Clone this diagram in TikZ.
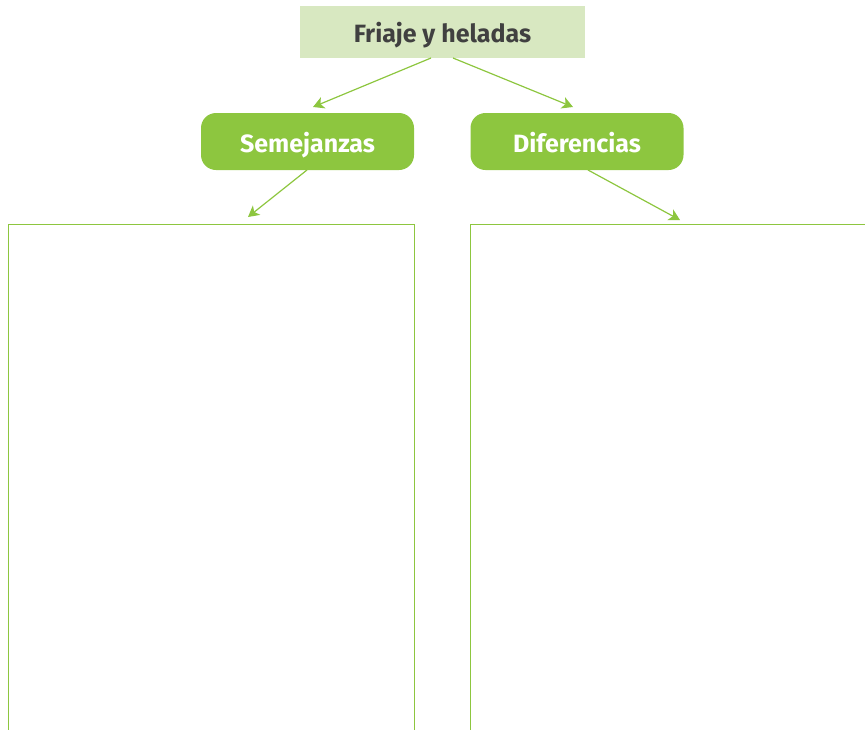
\documentclass[tikz,border=0pt]{standalone}
\usepackage{fontspec}
\setmainfont{Fira Sans}
\usetikzlibrary{arrows.meta}
\definecolor{lgreen}{HTML}{D8E8C1}
\definecolor{mgreen}{HTML}{8DC63F}
\definecolor{dgray}{HTML}{404040}
\tikzset{
  topbox/.style={fill=lgreen, text=dgray, font=\bfseries\fontsize{25}{30}\selectfont, minimum width=285pt, minimum height=52pt, inner sep=0pt, text height=24pt, text depth=4pt},
  catbox/.style={fill=mgreen, text=white, rounded corners=15pt, font=\bfseries\fontsize{25}{30}\selectfont, minimum width=213pt, minimum height=57pt, inner sep=0pt, text height=26pt, text depth=4pt},
  conn/.style={draw=mgreen, line width=1.2pt, -{Stealth[length=11pt,width=12pt,inset=3pt]}},
  panel/.style={draw=mgreen, line width=1pt}
}
\begin{document}
\begin{tikzpicture}[x=1pt,y=-1pt]
\useasboundingbox (0,0) rectangle (865,729);
\clip (0,0) rectangle (865,729);
\node[topbox] (top) at (442.5,32) {Friaje y heladas};
\node[catbox] (sem) at (307.5,141.5) {Semejanzas};
\node[catbox] (dif) at (577,141.5) {Diferencias};
\draw[panel] (8,740) -- (8,224) coordinate (lpTL) -- (414,224) coordinate (lpTR) -- (414,740);
\draw[panel] (470.5,740) -- (470.5,224) coordinate (rpTL) -- (880,224);
\coordinate (a1s) at (431,58);
\coordinate (a1e) at (313,107);
\coordinate (a2s) at (453,58);
\coordinate (a2e) at (573,107);
\coordinate (a3s) at (307,170);
\coordinate (a3e) at (248,217);
\coordinate (a4s) at (588,170);
\coordinate (a4e) at (680,220);
\draw[conn] (a1s) -- (a1e);
\draw[conn] (a2s) -- (a2e);
\draw[conn] (a3s) -- (a3e);
\draw[conn] (a4s) -- (a4e);
\end{tikzpicture}
\end{document}
